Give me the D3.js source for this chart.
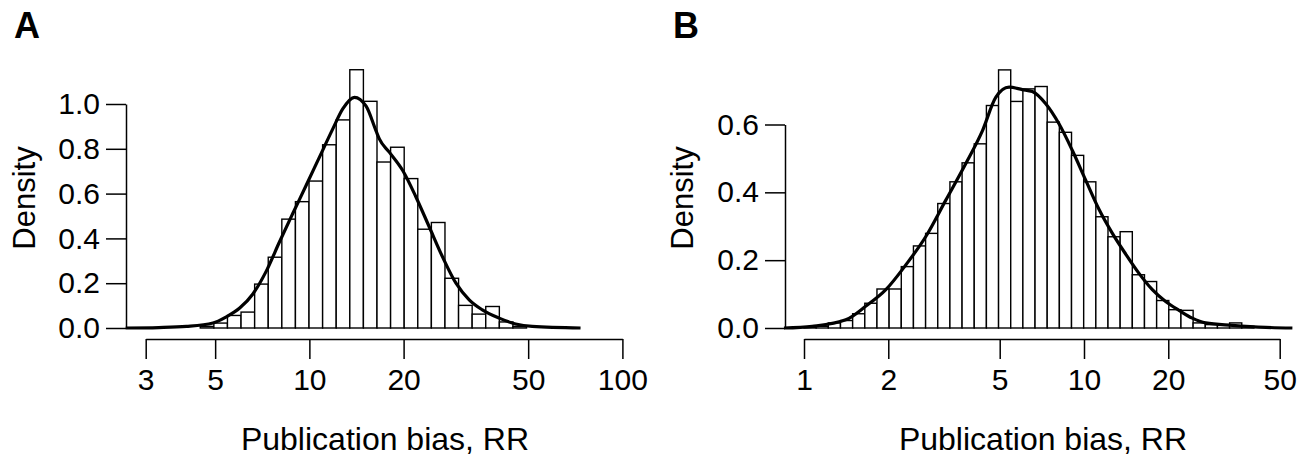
<!DOCTYPE html>
<html>
<head>
<meta charset="utf-8">
<script src="https://cdn.jsdelivr.net/npm/d3@7/dist/d3.min.js"></script>
<style>
  html, body { margin: 0; padding: 0; background: #fff; }
  svg { display: block; }
  text { font-family: "Liberation Sans", Arial, sans-serif; fill: #000; }
</style>
</head>
<body>
<svg id="chart" width="1309" height="462"></svg>
<script>
// ---------- Data ----------
// Histogram bins: lower edge on natural-log scale of RR, bin width 0.1
const binWidthLn = 0.1;
const binLowA = [1.5,1.6,1.7,1.8,1.9,2.0,2.1,2.2,2.3,2.4,2.5,2.6,2.7,2.8,2.9,3.0,3.1,3.2,3.3,3.4,3.5,3.6,3.7,3.8];
const densA   = [0.007,0.022,0.056,0.071,0.196,0.316,0.486,0.564,0.656,0.818,0.929,1.153,1.012,0.741,0.807,0.667,0.441,0.471,0.222,0.101,0.062,0.096,0.027,0.007];

const binLowB = [0.0,0.1,0.2,0.3,0.4,0.5,0.6,0.7,0.8,0.9,1.0,1.1,1.2,1.3,1.4,1.5,1.6,1.7,1.8,1.9,2.0,2.1,2.2,2.3,2.4,2.5,2.6,2.7,2.8,2.9,3.0,3.1,3.2,3.3,3.4,3.5,3.6];
const densB   = [0.002,0.005,0.015,0.022,0.042,0.073,0.115,0.115,0.181,0.242,0.279,0.367,0.431,0.487,0.543,0.656,0.761,0.668,0.705,0.712,0.607,0.577,0.509,0.431,0.328,0.269,0.284,0.157,0.137,0.081,0.054,0.052,0.015,0.010,0.008,0.015,0.005];

// Density curves (RR, density)
const curveA_rr  = [2.59,3.3,4.05,4.92,5.43,5.99,6.60,7.29,8.03,8.85,9.77,10.77,11.88,12.78,13.93,15.18,16.33,16.73,18.0,19.85,21.9,24.14,26.6,29.4,32.4,35.7,40.4,45.6,51.5,73.5];
const curveA_den = [0,0.002,0.007,0.022,0.050,0.089,0.152,0.255,0.385,0.511,0.637,0.763,0.889,0.978,1.03,0.99,0.88,0.844,0.785,0.704,0.585,0.452,0.319,0.2,0.126,0.081,0.044,0.018,0.007,0];

const curveB_rr  = [0.848,1.07,1.41,1.66,1.96,2.31,2.72,3.21,3.78,4.34,4.84,5.40,6.02,6.54,7.30,8.14,9.08,10.14,11.31,12.63,14.09,15.72,17.54,19.57,21.84,24.37,27.2,33.9,44.6,55.5];
const curveB_den = [0,0.005,0.024,0.064,0.113,0.186,0.269,0.377,0.484,0.582,0.680,0.710,0.703,0.697,0.661,0.602,0.524,0.436,0.350,0.279,0.218,0.161,0.113,0.078,0.052,0.029,0.015,0.008,0.002,0];

const xTicksA = [3,5,10,20,50,100];
const xTicksB = [1,2,5,10,20,50];
const yTicksA = [0,0.2,0.4,0.6,0.8,1.0];
const yTicksB = [0,0.2,0.4,0.6];

const panelLabels = ["A","B"];
const xTitle = "Publication bias, RR";
const yTitle = "Density";

// ---------- Drawing ----------
const svg = d3.select("#chart");
const FS = 30;

function panel(cfg) {
  const g = svg.append("g");
  const x = d3.scaleLog().domain(cfg.xDomain).range(cfg.xRange);
  const y = d3.scaleLinear().domain(cfg.yDomain).range(cfg.yRange);

  // bars
  g.selectAll("rect.bar").data(cfg.binLow.map((b,i)=>({lo:b, d:cfg.dens[i]})))
    .enter().append("rect")
    .attr("x", d => x(Math.exp(d.lo)))
    .attr("width", d => x(Math.exp(d.lo + binWidthLn)) - x(Math.exp(d.lo)))
    .attr("y", d => y(d.d))
    .attr("height", d => y(0) - y(d.d))
    .attr("fill", "#fff").attr("stroke", "#000").attr("stroke-width", 1.4);

  // density curve
  const pts = cfg.cRR.map((r,i)=>[r, cfg.cDen[i]]);
  g.append("path").datum(pts)
    .attr("d", d3.line().x(d=>x(d[0])).y(d=>y(d[1])).curve(d3.curveMonotoneX))
    .attr("fill","none").attr("stroke","#000").attr("stroke-width",3.2)
    .attr("stroke-linejoin","round");

  // x axis
  const xa = g.append("g").attr("transform", `translate(0,${cfg.xAxisY})`)
    .call(d3.axisBottom(x).tickValues(cfg.xTicks).tickFormat(d3.format("d"))
      .tickSize(20).tickSizeOuter(0).tickPadding(10));
  // y axis
  const ya = g.append("g").attr("transform", `translate(${cfg.yAxisX},0)`)
    .call(d3.axisLeft(y).tickValues(cfg.yTicks).tickFormat(d3.format(".1f"))
      .tickSize(20).tickSizeOuter(0).tickPadding(6));
  [xa, ya].forEach(a => {
    a.selectAll("path, line").attr("stroke","#000").attr("stroke-width",1.5);
    a.selectAll("text").attr("font-size", FS).attr("font-family", '"Liberation Sans", Arial, sans-serif').attr("fill","#000");
  });

  // titles
  g.append("text").attr("x", cfg.xTitleX).attr("y", 450).attr("text-anchor","middle")
    .attr("font-size", 32).text(xTitle);
  g.append("text").attr("transform", `translate(${cfg.yTitleX},198) rotate(-90)`)
    .attr("text-anchor","middle").attr("font-size", 31).text(yTitle);
  g.append("text").attr("x", cfg.labelX).attr("y", 38).attr("font-size", 36)
    .attr("font-weight","bold").text(cfg.label);
}

panel({
  label: panelLabels[0], labelX: 14,
  xDomain: [3,100], xRange: [145.7, 622.4],
  yDomain: [0,1], yRange: [328, 104],
  binLow: binLowA, dens: densA, cRR: curveA_rr, cDen: curveA_den,
  xTicks: xTicksA, yTicks: yTicksA,
  xAxisY: 339, yAxisX: 126, xTitleX: 385, yTitleX: 35
});
panel({
  label: panelLabels[1], labelX: 673,
  xDomain: [1,50], xRange: [804, 1279.7],
  yDomain: [0,0.6], yRange: [328, 124.5],
  binLow: binLowB, dens: densB, cRR: curveB_rr, cDen: curveB_den,
  xTicks: xTicksB, yTicks: yTicksB,
  xAxisY: 339, yAxisX: 785, xTitleX: 1043, yTitleX: 693
});
</script>
</body>
</html>
